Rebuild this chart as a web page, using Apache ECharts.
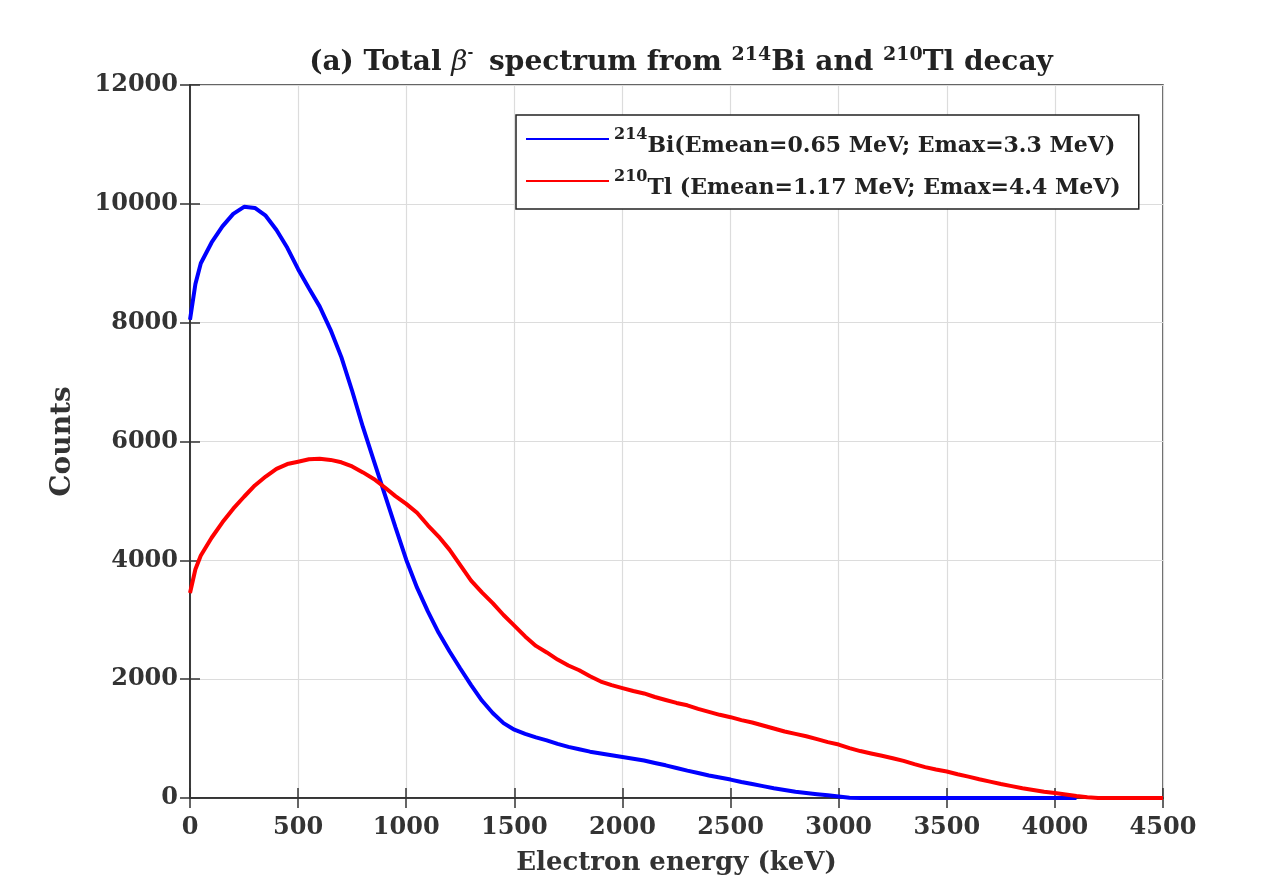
<!DOCTYPE html>
<html>
<head>
<meta charset="utf-8">
<script src="https://cdn.jsdelivr.net/npm/echarts@6/dist/echarts.min.js"></script>
<style>
html,body{margin:0;padding:0;background:#fff;overflow:hidden;}
#chart{width:1273px;height:883px;}
</style>
</head>
<body>
<div id="chart"></div>
<script>
// Energies (keV)
const energies = [0, 25, 50, 100, 150, 200, 250, 300, 350, 400, 450, 500, 550, 600, 650, 700, 750, 800, 850, 900, 950,
  1000, 1050, 1100, 1150, 1200, 1250, 1300, 1350, 1400, 1450, 1500, 1550, 1600, 1650, 1700, 1750, 1800, 1850, 1900, 1950,
  2000, 2050, 2100, 2150, 2200, 2250, 2300, 2350, 2400, 2450, 2500, 2550, 2600, 2650, 2700, 2750, 2800, 2850, 2900, 2950,
  3000, 3050, 3100, 3150, 3200, 3250, 3300, 3350, 3400, 3450, 3500, 3550, 3600, 3650, 3700, 3750, 3800, 3850, 3900, 3950,
  4000, 4050, 4100, 4150, 4200, 4250, 4300, 4350, 4400, 4450, 4500];

// 214Bi counts
const biCounts = [8050, 8650, 9000, 9350, 9620, 9830, 9950, 9930, 9800, 9560, 9260, 8900, 8580, 8270, 7880, 7420, 6850, 6240, 5680, 5120, 4560,
  4010, 3540, 3140, 2780, 2470, 2180, 1900, 1640, 1430, 1260, 1150, 1080, 1020, 970, 910, 860, 820, 780, 750, 720,
  690, 660, 630, 590, 550, 505, 460, 420, 380, 345, 310, 270, 235, 200, 165, 135, 105, 85, 65, 45,
  25, 5, 0, 0, 0, 0, 0, 0, 0, 0, 0, 0, 0, 0, 0, 0, 0, 0, 0, 0,
  0, 0, 0, null, null, null, null, null, null, null, null];

// 210Tl counts
const tlCounts = [3450, 3850, 4080, 4380, 4640, 4870, 5070, 5260, 5410, 5540, 5620, 5660, 5700, 5710, 5690, 5650, 5580, 5480, 5370, 5230, 5080,
  4950, 4800, 4590, 4400, 4180, 3920, 3660, 3460, 3280, 3080, 2900, 2720, 2560, 2450, 2330, 2230, 2150, 2050, 1960, 1900,
  1850, 1800, 1760, 1700, 1650, 1600, 1560, 1500, 1450, 1400, 1360, 1310, 1270, 1220, 1170, 1120, 1080, 1040, 990, 940,
  900, 840, 790, 750, 710, 670, 625, 570, 520, 480, 445, 400, 360, 315, 275, 235, 200, 165, 135, 105,
  85, 60, 35, 12, 0, 0, 0, 0, 0, 0, 0];

const xTicks = [0, 500, 1000, 1500, 2000, 2500, 3000, 3500, 4000, 4500];
const yTicks = [0, 2000, 4000, 6000, 8000, 10000, 12000];

const seriesNames = ['bi', 'tl'];
const legendLabels = {
  bi: '{sup|214}{t|Bi(Emean=0.65 MeV; Emax=3.3 MeV)}',
  tl: '{sup|210}{t|Tl (Emean=1.17 MeV; Emax=4.4 MeV)}'
};

const chart = echarts.init(document.getElementById('chart'), null, {width: 1273, height: 883});
const dserif = '"DejaVu Serif", serif';

const option = {
  backgroundColor: '#fff',
  animation: false,
  title: {
    text: '(a) Total {i|β}{m|-} spectrum from {sup|214}Bi and {sup|210}Tl decay',
    left: 676, top: 41, textAlign: 'center',
    textStyle: {
      fontFamily: dserif, fontWeight: 'bold', fontSize: 28, color: '#222',
      rich: {
        i: {fontFamily: dserif, fontStyle: 'italic', fontWeight: 'normal', fontSize: 28, color: '#222'},
        m: {fontFamily: dserif, fontSize: 14, color: '#222', verticalAlign: 'top', padding: [0, 6, 14, 0]},
        sup: {fontFamily: dserif, fontWeight: 'bold', fontSize: 19, color: '#222', verticalAlign: 'top', padding: [0, 0, 14, 0]}
      }
    }
  },
  legend: {
    orient: 'vertical',
    left: 516, top: 115,
    padding: [12, 18, 10, 10],
    icon: 'rect',
    itemWidth: 83, itemHeight: 2, itemGap: 12,
    borderColor: '#222', borderWidth: 1.5,
    backgroundColor: '#fff',
    data: seriesNames,
    formatter: name => legendLabels[name],
    textStyle: {
      fontFamily: dserif, fontWeight: 'bold', fontSize: 22, color: '#222',
      rich: {
        t: {fontFamily: dserif, fontWeight: 'bold', fontSize: 22, color: '#222', padding: [14, 0, 0, 0]},
        sup: {fontFamily: dserif, fontWeight: 'bold', fontSize: 16, color: '#222', padding: [0, 0, 8, 0]}
      }
    }
  },
  grid: {left: 190, top: 85, width: 973, height: 713, show: true, borderColor: '#333', borderWidth: 1.5},
  xAxis: [{
    type: 'value', min: 0, max: 4500, interval: 500,
    name: 'Electron energy (keV)', nameLocation: 'middle', nameGap: 52,
    nameTextStyle: {fontFamily: dserif, fontWeight: 'bold', fontSize: 26, color: '#333'},
    axisLine: {show: true, lineStyle: {color: '#333', width: 1.5}},
    axisTick: {show: true, inside: true, length: 10, lineStyle: {color: '#333', width: 1.5}},
    axisLabel: {fontFamily: dserif, fontWeight: 'bold', fontSize: 24, color: '#333', margin: 18,
      formatter: v => xTicks.includes(v) ? String(v) : ''},
    splitLine: {show: true, lineStyle: {color: '#dcdcdc', width: 1.2}}
  }, {
    type: 'value', min: 0, max: 4500, interval: 500, position: 'top',
    axisLine: {show: true, lineStyle: {color: '#333', width: 1.5}},
    axisTick: {show: true, inside: true, length: 10, lineStyle: {color: '#333', width: 1.5}},
    axisLabel: {show: false}, splitLine: {show: false}
  }],
  yAxis: [{
    type: 'value', min: 0, max: 12000, interval: 2000,
    name: 'Counts', nameLocation: 'middle', nameGap: 113, nameRotate: 90,
    nameTextStyle: {fontFamily: dserif, fontWeight: 'bold', fontSize: 28, color: '#333'},
    axisLine: {show: true, lineStyle: {color: '#333', width: 1.5}},
    axisTick: {show: true, inside: true, length: 10, lineStyle: {color: '#333', width: 1.5}},
    axisLabel: {fontFamily: dserif, fontWeight: 'bold', fontSize: 24, color: '#333', margin: 12,
      formatter: v => yTicks.includes(v) ? String(v) : ''},
    splitLine: {show: true, lineStyle: {color: '#dcdcdc', width: 1.2}}
  }, {
    type: 'value', min: 0, max: 12000, interval: 2000, position: 'right',
    axisLine: {show: true, lineStyle: {color: '#333', width: 1.5}},
    axisTick: {show: true, inside: true, length: 10, lineStyle: {color: '#333', width: 1.5}},
    axisLabel: {show: false}, splitLine: {show: false}
  }],
  series: [{
    name: 'bi', type: 'line', symbol: 'none', connectNulls: false,
    data: energies.map((e, i) => [e, biCounts[i]]),
    lineStyle: {color: '#0000ff', width: 4},
    itemStyle: {color: '#0000ff'}
  }, {
    name: 'tl', type: 'line', symbol: 'none',
    data: energies.map((e, i) => [e, tlCounts[i]]),
    lineStyle: {color: '#ff0000', width: 4},
    itemStyle: {color: '#ff0000'}
  }]
};
chart.setOption(option);
</script>
</body>
</html>
